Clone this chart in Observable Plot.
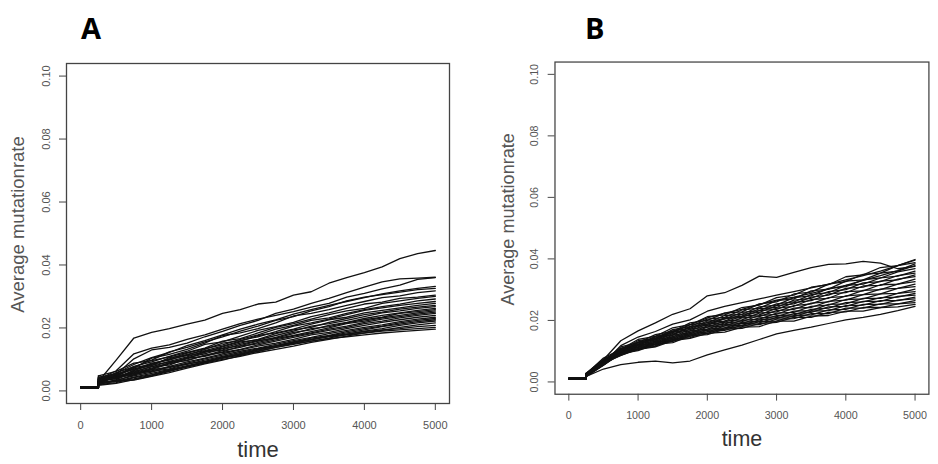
<!DOCTYPE html>
<html><head><meta charset="utf-8">
<script src="https://cdn.jsdelivr.net/npm/d3@7"></script>
<script src="https://cdn.jsdelivr.net/npm/@observablehq/plot@0.6"></script>
<style>
body{margin:0;background:#fff;width:938px;height:464px;overflow:hidden;position:relative;font-family:"Liberation Sans",Arial,sans-serif}
.panel{position:absolute;top:0}
.tag{position:absolute;font-family:"Open Sans","Liberation Sans",sans-serif;font-weight:700;font-size:29px;line-height:1;color:#000}
</style></head><body>
<div id="pa" class="panel" style="left:0"></div>
<div id="pb" class="panel" style="left:469px"></div>
<div class="tag" style="left:81px;top:13px">A</div>
<div class="tag" style="left:585px;top:13px">B</div>
<script>
// time points (generations)
const time = [0,250,500,750,1000,1250,1500,1750,2000,2250,2500,2750,3000,3250,3500,3750,4000,4250,4500,4750,5000];
// average mutation rate of each run, in units of 0.001
const unit = 0.001;
const runsA = [
[1.2,3.0,9.8,16.8,18.6,19.8,21.2,22.5,24.6,25.8,27.6,28.2,30.4,31.5,34.2,36.0,37.6,39.4,42.0,43.6,44.6],
[1.1,2.8,5.2,10.2,13.0,13.8,15.2,17.2,18.9,20.8,22.4,24.6,26.0,27.8,29.4,31.2,33.0,34.6,35.6,35.8,36.1],
[1.0,3.6,6.4,11.8,13.6,14.6,16.4,17.8,19.6,21.4,22.8,24.0,25.2,26.6,27.8,29.8,31.0,32.4,33.6,35.4,36.0],
[1.1,4.2,5.6,8.4,10.6,12.2,14.4,16.0,17.8,19.6,21.2,22.6,24.4,25.8,27.2,28.4,29.6,30.8,31.8,32.6,33.2],
[1.2,3.0,5.8,7.6,9.8,12.4,13.8,15.6,17.2,19.0,20.6,22.4,23.6,25.4,26.8,28.6,29.8,30.6,31.4,32.2,32.6],
[1.0,3.8,4.6,7.2,10.4,11.6,13.2,15.2,17.6,18.4,19.8,21.6,23.8,24.6,25.8,27.2,28.4,29.6,30.2,31.2,31.8],
[1.1,2.6,4.8,7.8,9.2,11.0,12.6,14.8,15.6,17.4,19.2,20.4,21.8,23.6,24.8,26.2,27.6,28.2,29.4,29.8,30.4],
[1.3,4.8,6.2,8.8,9.6,10.8,12.2,13.6,15.8,16.6,18.4,20.2,21.4,22.8,24.2,25.4,26.2,27.8,28.6,29.4,30.0],
[1.0,3.2,4.4,6.4,8.6,10.2,12.0,13.4,14.6,16.4,17.8,19.6,20.8,22.4,23.2,24.6,25.8,26.8,27.6,28.6,29.2],
[1.2,2.2,5.0,7.0,8.0,10.6,11.4,13.2,15.2,16.0,17.2,18.8,20.6,21.6,22.8,24.2,25.6,26.4,27.2,27.8,28.4],
[1.1,3.6,5.4,6.8,8.8,9.8,11.6,12.8,14.2,15.8,17.6,18.4,19.6,21.2,22.6,23.4,24.8,25.6,26.4,27.2,27.8],
[1.0,2.8,4.0,6.2,7.6,9.4,10.8,12.6,13.6,15.2,16.4,18.2,19.4,20.2,21.8,23.0,24.2,25.0,26.0,26.6,27.2],
[1.2,4.4,5.2,7.4,8.4,10.0,11.2,12.2,14.0,15.6,16.2,17.6,19.0,20.6,21.4,22.4,23.6,24.8,25.4,26.2,26.8],
[1.1,2.4,4.6,5.8,7.2,8.8,10.6,11.8,13.4,14.4,15.8,17.0,18.6,19.4,20.8,21.8,23.0,24.0,24.8,25.6,26.2],
[1.3,3.4,3.8,6.6,8.2,9.2,10.2,12.4,13.0,14.8,16.0,16.8,18.2,19.8,20.4,21.6,22.6,23.4,24.6,25.2,25.8],
[1.0,3.0,4.2,5.4,6.8,8.6,9.8,11.2,12.8,13.8,15.4,16.6,17.6,18.8,20.0,21.4,22.2,23.2,24.0,24.8,25.4],
[1.2,2.0,3.6,6.0,7.8,8.2,10.4,11.0,12.4,14.2,15.0,16.2,17.4,18.4,19.6,20.6,21.8,22.8,23.6,24.4,25.0],
[1.1,4.0,4.8,5.6,7.0,9.0,9.6,11.4,12.2,13.2,14.6,15.8,17.0,18.2,19.2,20.2,21.4,22.2,23.2,24.0,24.6],
[1.0,2.6,3.2,5.2,6.4,7.8,9.2,10.4,11.8,13.0,14.2,15.2,16.4,17.8,18.6,19.8,20.8,21.8,22.6,23.4,24.0],
[1.2,3.2,4.4,5.0,6.8,7.4,8.8,10.2,11.4,12.6,13.6,14.8,16.0,17.0,18.2,19.2,20.2,21.0,22.0,22.8,23.4],
[1.1,2.2,3.4,4.8,6.0,7.6,8.4,9.8,11.0,12.2,13.4,14.4,15.6,16.8,17.6,18.8,19.8,20.6,21.6,22.4,23.0],
[1.0,3.8,4.0,5.6,6.2,7.0,8.6,9.4,10.8,11.6,13.0,14.2,15.2,16.2,17.4,18.4,19.4,20.4,21.2,22.0,22.6],
[1.3,2.8,3.0,4.4,5.6,6.8,8.0,9.2,10.4,11.4,12.6,13.8,14.8,15.8,16.8,18.0,19.0,19.8,20.8,21.6,22.2],
[1.1,2.0,2.6,4.2,5.2,6.6,7.6,8.8,10.0,11.0,12.2,13.2,14.2,15.4,16.4,17.4,18.4,19.2,20.2,21.0,21.6],
[1.0,2.4,3.2,3.8,5.0,6.4,7.8,9.2,10.6,11.8,13.2,14.2,15.6,16.4,17.4,18.0,18.8,19.4,19.8,20.4,20.8],
[1.2,1.8,2.4,3.6,4.8,6.2,7.6,9.0,10.4,11.8,13.0,14.2,15.4,16.4,17.2,17.8,18.4,19.0,19.4,19.8,20.2],
[1.1,2.2,3.0,3.4,4.6,5.8,7.2,8.6,9.8,11.2,12.6,13.8,15.0,15.8,16.6,17.2,17.8,18.4,18.8,19.2,19.6]
];
const runsB = [
[1.1,2.2,7.2,13.4,16.6,19.2,22.0,23.8,28.0,29.0,31.4,34.4,34.0,35.6,37.2,38.2,38.4,39.2,38.6,36.8,37.6],
[1.1,2.0,6.0,11.8,14.6,16.4,18.8,20.2,23.0,24.6,25.8,27.0,28.2,29.4,30.6,31.8,33.2,34.6,36.0,37.8,39.6],
[1.1,1.8,5.4,9.6,12.8,14.2,16.2,18.6,20.8,22.4,23.6,25.2,26.6,27.6,28.8,30.2,31.4,33.0,34.6,36.2,38.4],
[1.1,1.8,4.2,5.6,6.4,6.8,6.2,6.8,8.8,10.4,12.0,13.8,15.6,16.8,17.8,19.0,20.2,21.0,22.0,23.2,24.6],
[1.1,2.6,7.8,10.6,13.8,14.8,17.6,18.6,21.2,21.8,24.2,25.0,27.4,28.2,30.8,31.6,34.2,34.8,37.2,37.8,39.8],
[1.2,2.0,6.6,11.4,12.8,15.4,16.4,19.2,20.0,22.4,22.8,25.4,26.0,28.6,29.2,31.8,32.6,35.0,35.4,37.8,38.8],
[1.0,2.8,7.4,10.2,13.4,14.2,17.0,18.0,20.4,21.0,23.4,24.0,26.4,27.0,29.6,30.2,32.8,33.2,35.4,36.0,37.8],
[1.1,2.2,6.4,11.0,12.2,14.8,16.0,18.6,19.2,21.6,22.0,24.4,25.0,27.4,28.0,30.4,31.0,33.2,33.8,35.8,36.8],
[1.2,2.6,7.2,10.0,13.0,13.8,16.6,17.4,19.8,20.4,22.6,23.2,25.4,26.0,28.4,29.0,31.4,31.8,33.8,34.4,36.0],
[1.0,2.0,6.2,10.8,12.0,14.6,15.4,18.0,18.8,20.8,21.4,23.8,24.2,26.6,27.2,29.4,30.0,32.2,32.6,34.6,35.4],
[1.1,2.8,7.0,9.8,12.8,13.6,16.2,17.0,19.4,19.8,22.0,22.6,24.8,25.4,27.6,28.2,30.4,30.8,32.8,33.2,34.8],
[1.2,2.2,6.4,10.6,11.8,14.2,15.2,17.8,18.4,20.6,21.0,23.2,23.6,25.8,26.4,28.6,29.0,31.2,31.4,33.4,34.2],
[1.0,2.6,6.8,9.6,12.4,13.2,15.8,16.6,18.8,19.4,21.4,21.8,24.0,24.6,26.8,27.2,29.4,29.6,31.6,31.8,33.4],
[1.1,2.0,6.0,10.4,11.4,13.8,14.6,17.2,17.8,19.8,20.2,22.4,22.8,24.8,25.4,27.4,27.8,29.8,30.0,31.8,32.6],
[1.2,2.4,6.8,9.4,12.0,12.8,15.2,16.0,18.2,18.8,20.8,21.2,23.2,23.6,25.6,26.0,28.0,28.4,30.2,30.4,31.8],
[1.0,2.0,6.2,10.2,11.2,13.4,14.2,16.6,17.2,19.2,19.6,21.6,22.0,24.0,24.2,26.2,26.6,28.4,28.6,30.4,31.0],
[1.1,2.6,6.6,9.2,11.8,12.4,14.8,15.6,17.8,18.2,20.0,20.4,22.4,22.6,24.6,25.0,26.8,27.0,28.6,28.8,30.2],
[1.2,1.8,5.8,9.8,10.8,13.0,13.8,16.2,16.8,18.6,19.0,20.8,21.2,23.0,23.2,25.2,25.4,27.2,27.2,28.8,29.4],
[1.0,2.4,6.4,9.0,11.4,12.2,14.4,15.2,17.2,17.6,19.4,19.8,21.6,21.8,23.6,24.0,25.8,26.0,27.4,27.6,28.8],
[1.1,2.0,5.6,9.6,10.6,12.8,13.4,15.8,16.2,18.2,18.4,20.2,20.6,22.2,22.6,24.4,24.6,26.2,26.2,27.8,28.2],
[1.2,2.4,6.4,8.8,11.2,11.8,14.0,14.8,16.8,17.2,19.0,19.2,21.0,21.2,23.0,23.2,24.8,25.0,26.4,26.4,27.6],
[1.0,1.8,5.6,9.4,10.4,12.4,13.2,15.4,15.8,17.6,18.0,19.6,19.8,21.6,21.8,23.4,23.6,25.2,25.2,26.6,27.0],
[1.1,2.2,6.2,8.6,10.8,11.6,13.8,14.4,16.4,16.8,18.4,18.6,20.4,20.6,22.2,22.2,24.0,24.0,25.4,25.4,26.4],
[1.2,1.8,5.4,9.2,10.2,12.2,12.8,15.0,15.4,17.2,17.4,19.0,19.4,21.0,21.0,22.6,22.8,24.2,24.2,25.4,25.8],
[1.0,2.4,6.0,8.6,10.6,11.4,13.4,14.2,15.8,16.2,17.8,18.0,19.8,19.8,21.4,21.6,23.0,23.0,24.2,24.4,25.2]
];
const xTicks = [0,1000,2000,3000,4000,5000];
const yTicks = [0,0.02,0.04,0.06,0.08,0.10];
const xTitle = "time";
const yTitle = "Average mutationrate";

function toRows(runs) {
  return runs.flatMap((r, i) => r.map((v, j) => ({t: time[j], v: v * unit, run: i})));
}

function panel(runs, width, ml, mr) {
  const rows = toRows(runs);
  const lineStyle = {x: "t", y: "v", z: "run", stroke: "#111", strokeWidth: 1.3};
  return Plot.plot({
    width, height: 464,
    marginLeft: ml, marginRight: mr, marginTop: 63, marginBottom: 61,
    x: {domain: [-200, 5200]},
    y: {domain: [-0.004, 0.104]},
    style: {fontFamily: "'Liberation Sans', Arial, sans-serif", fontSize: "11px", background: "transparent", overflow: "visible"},
    marks: [
      // flat start, then the first jump; afterwards the runs drift upward
      Plot.line(rows.filter(d => d.t <= 250), {...lineStyle, curve: "step-after"}),
      Plot.line(rows.filter(d => d.t >= 250), {...lineStyle, curve: "linear"}),
      Plot.frame({stroke: "#444", strokeWidth: 1.3}),
      Plot.axisX({ticks: xTicks, tickSize: 7, tickPadding: 11, tickFormat: d => String(d), label: null, stroke: "#444", fill: "#555", fontSize: 11}),
      Plot.axisY({ticks: yTicks, tickSize: 7, tickPadding: 10, tickRotate: -90, tickFormat: d3.format(".2f"), label: null, stroke: "#444", fill: "#555", fontSize: 11}),
      Plot.text([xTitle], {frameAnchor: "bottom", text: d => d, dy: 53, fontSize: 22, fill: "#333"}),
      Plot.text([yTitle], {frameAnchor: "left", textAnchor: "middle", lineAnchor: "middle", text: d => d, dx: -48, dy: -9, rotate: -90, fontSize: 18.5, fill: "#555"})
    ]
  });
}

document.getElementById("pa").append(panel(runsA, 469, 66, 20));
document.getElementById("pb").append(panel(runsB, 480, 87.5, 9.8));
</script>
</body></html>
